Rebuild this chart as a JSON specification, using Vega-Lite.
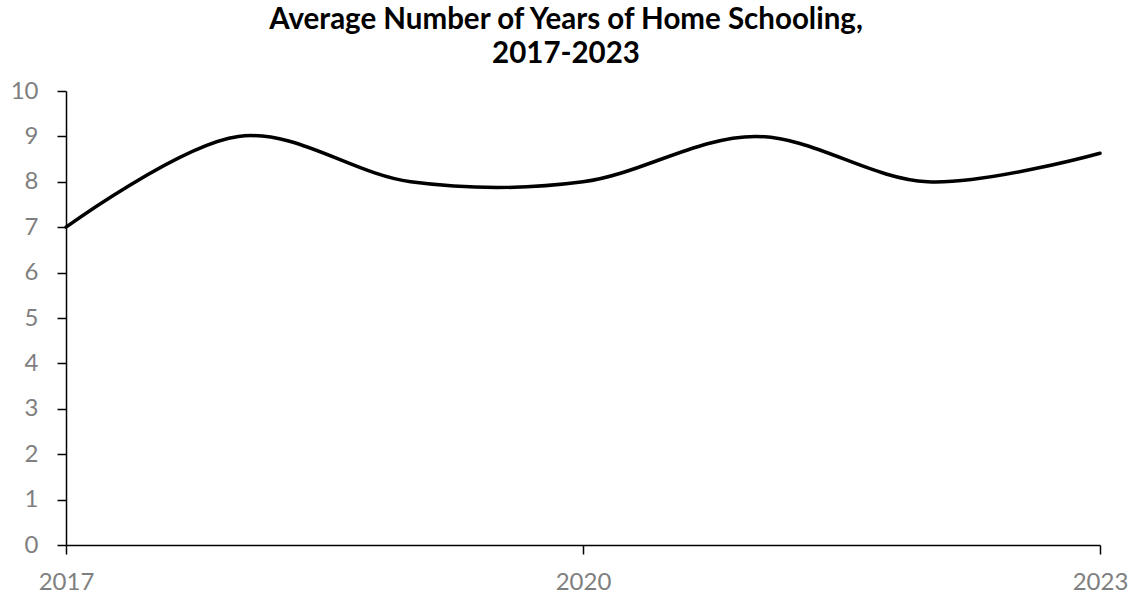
{
  "$schema": "https://vega.github.io/schema/vega-lite/v6.json",
  "autosize": "none",
  "width": 1034,
  "height": 454,
  "padding": {"left": 66, "top": 91, "right": 35, "bottom": 51},
  "background": "white",
  "title": {
    "text": ["Average Number of Years of Home Schooling,", "2017-2023"],
    "font": "Lato",
    "fontSize": 29.5,
    "fontWeight": "bold",
    "color": "#000000",
    "lineHeight": 34,
    "anchor": "middle",
    "dx": -17,
    "offset": 10
  },
  "config": {
    "view": {"stroke": null},
    "axis": {
      "grid": false,
      "domainColor": "#000000",
      "domainWidth": 1.5,
      "tickColor": "#000000",
      "tickWidth": 1.5,
      "labelFont": "Lato",
      "labelFontSize": 24,
      "labelColor": "#7f7f7f",
      "title": null
    }
  },
  "data": {
    "values": [
      {"year": 2017, "years": 7.0},
      {"year": 2018, "years": 9.0},
      {"year": 2019, "years": 8.0},
      {"year": 2020, "years": 8.0},
      {"year": 2021, "years": 9.0},
      {"year": 2022, "years": 8.0},
      {"year": 2023, "years": 8.63}
    ]
  },
  "mark": {"type": "line", "interpolate": "cardinal", "color": "#000000", "strokeWidth": 3.5, "strokeCap": "round"},
  "encoding": {
    "x": {
      "field": "year",
      "type": "quantitative",
      "scale": {"domain": [2017, 2023], "nice": false, "zero": false},
      "axis": {"values": [2017, 2020, 2023], "format": "d", "tickSize": 9, "labelPadding": 16, "labelFlush": false}
    },
    "y": {
      "field": "years",
      "type": "quantitative",
      "scale": {"domain": [0, 10], "nice": false},
      "axis": {"values": [0, 1, 2, 3, 4, 5, 6, 7, 8, 9, 10], "tickSize": 9, "labelPadding": 19}
    }
  }
}
